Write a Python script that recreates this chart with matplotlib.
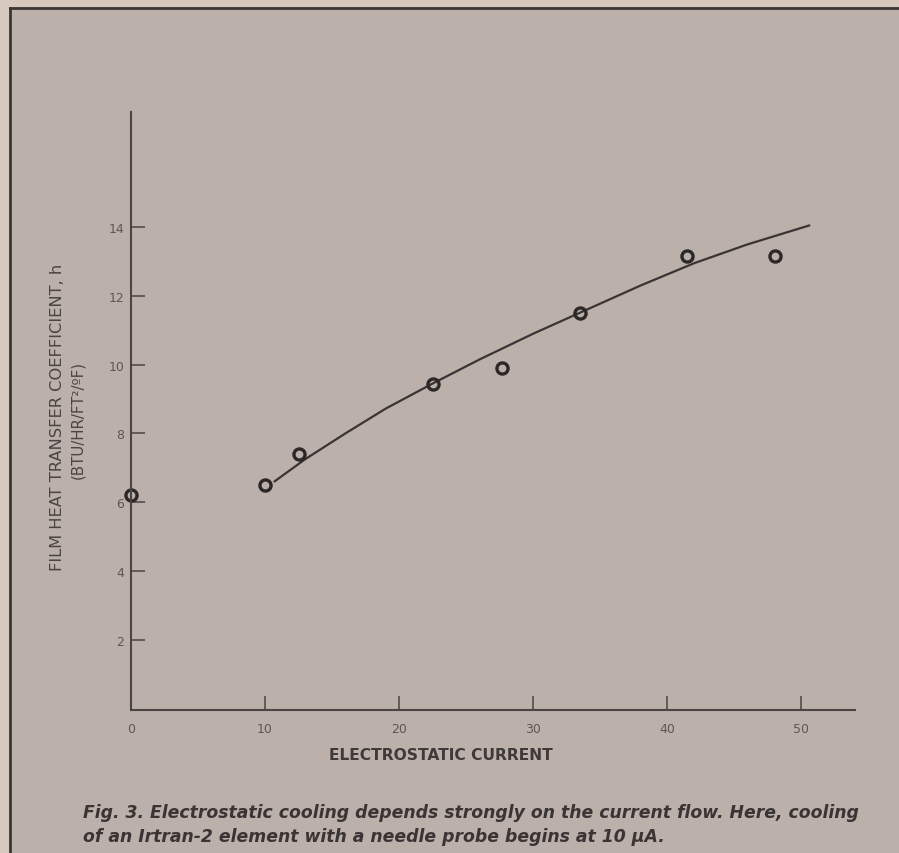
import matplotlib.pyplot as plt
from matplotlib.patches import Rectangle
from matplotlib.lines import Line2D

# measured points (electrostatic current, film heat transfer coefficient)
current = [0, 10, 12.5, 22.5, 27.7, 33.5, 41.5, 48]
h_coef = [6.2, 6.5, 7.4, 9.45, 9.9, 11.5, 13.15, 13.15]

# hand drawn trend curve
curve_x = [10.7, 13, 16, 19, 22.5, 26, 30, 34, 38, 42, 46, 50.6]
curve_y = [6.6, 7.25, 8.0, 8.72, 9.45, 10.15, 10.9, 11.6, 12.3, 12.95, 13.5, 14.05]

x_ticks = [0, 10, 20, 30, 40, 50]
y_ticks = [2, 4, 6, 8, 10, 12, 14]

bg = "#bbb0aa"
ink = "#3a3434"
grey = "#5e5757"

fig = plt.figure(figsize=(8.99, 8.54), dpi=100, facecolor=bg)

# page edge and frame lines
fig.add_artist(Rectangle((0, 0), 10 / 899, 1, transform=fig.transFigure, color="#d6c8bd", lw=0))
fig.add_artist(Rectangle((0, 1 - 8 / 854), 1, 8 / 854, transform=fig.transFigure, color="#d6c8bd", lw=0))
fig.add_artist(Line2D([10 / 899, 10 / 899], [0, 1 - 9 / 854], transform=fig.transFigure, color="#3c3636", lw=2))
fig.add_artist(Line2D([10 / 899, 1], [1 - 9 / 854, 1 - 9 / 854], transform=fig.transFigure, color="#3c3636", lw=2))

ax = fig.add_axes([131 / 899, 143 / 854, 724 / 899, 598 / 854])
ax.set_facecolor("none")
ax.set_xlim(0, 54)
ax.set_ylim(-0.05, 17.35)

ax.plot(curve_x, curve_y, color=ink, lw=1.6, solid_capstyle="round")
ax.plot(current, h_coef, "o", ms=8, mfc="none", mec="#2c2828", mew=2.4, clip_on=False)

for s in ["top", "right"]:
    ax.spines[s].set_visible(False)
for s in ["left", "bottom"]:
    ax.spines[s].set_color("#4a4444")
    ax.spines[s].set_linewidth(1.5)

ax.set_xticks(x_ticks)
ax.set_yticks(y_ticks)
ax.tick_params(direction="in", length=10, width=1.1, color="#4a4444",
               labelcolor=grey, labelsize=9)
ax.tick_params(axis="x", pad=9)
ax.tick_params(axis="y", pad=5)

fig.text(441 / 899, 1 - 756 / 854, "ELECTROSTATIC CURRENT", ha="center", va="center",
         fontsize=11.2, fontweight="bold", color="#3f3939")
fig.text(58 / 899, 1 - 417 / 854, "FILM HEAT TRANSFER COEFFICIENT, h", rotation=90,
         ha="center", va="center", fontsize=11.7, color="#4a4444")
fig.text(78 / 899, 1 - 420 / 854, "(BTU/HR/FT²/ºF)", rotation=90,
         ha="center", va="center", fontsize=10.8, color="#4a4444")

fig.text(83 / 899, 1 - 813 / 854,
         "Fig. 3. Electrostatic cooling depends strongly on the current flow. Here, cooling",
         ha="left", va="center", fontsize=12.4, fontweight="bold", fontstyle="italic",
         color="#3a3434")
fig.text(83 / 899, 1 - 837 / 854,
         "of an Irtran-2 element with a needle probe begins at 10 μA.",
         ha="left", va="center", fontsize=12.4, fontweight="bold", fontstyle="italic",
         color="#3a3434")

fig.savefig("out.png", dpi=100, facecolor=bg)
